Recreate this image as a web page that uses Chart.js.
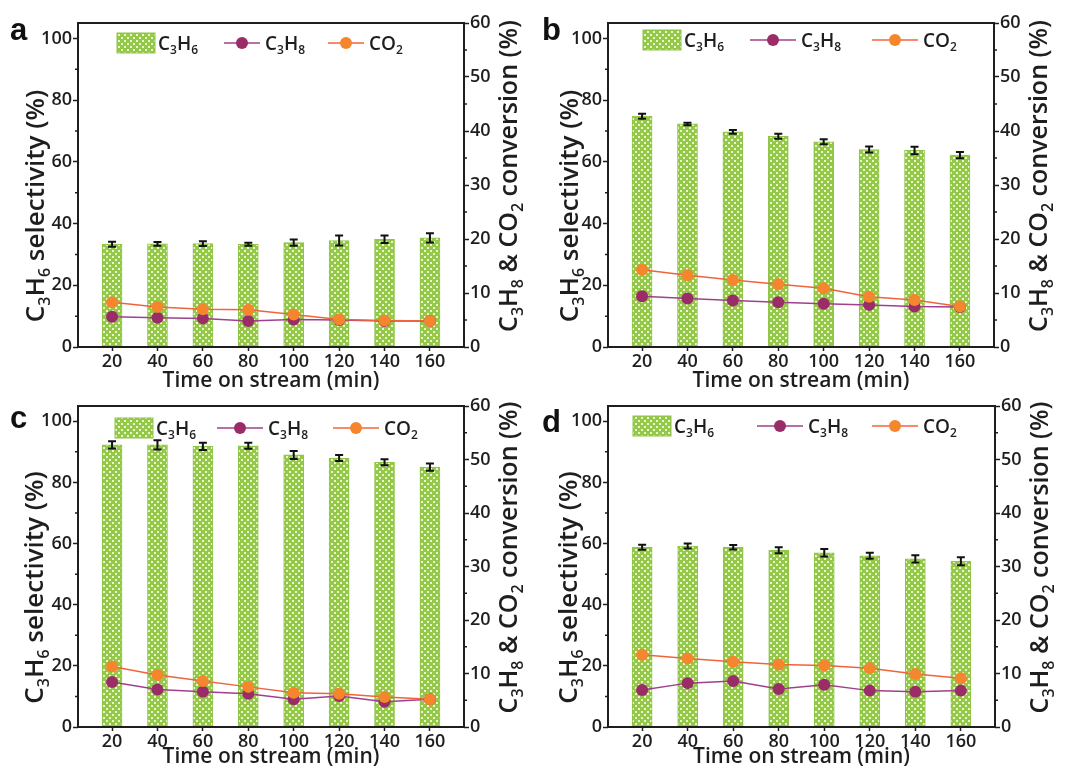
<!DOCTYPE html>
<html>
<head>
<meta charset="utf-8">
<script src="https://cdn.jsdelivr.net/npm/chart.js@4.4.1/dist/chart.umd.min.js"></script>
<style>
  body { margin: 0; background: #fff; width: 1065px; height: 778px; position: relative; overflow: hidden; }
  canvas { position: absolute; }
</style>
</head>
<body>
<canvas id="pa"></canvas>
<canvas id="pb"></canvas>
<canvas id="pc"></canvas>
<canvas id="pd"></canvas>
<script>
// time on stream (min)
const times = [20, 40, 60, 80, 100, 120, 140, 160];
const leftTicks = [0, 20, 40, 60, 80, 100];
const rightTicks = [0, 10, 20, 30, 40, 50, 60];

// panel a
const selA    = [33.3, 33.4, 33.5, 33.3, 33.8, 34.5, 34.9, 35.4];
const selErrA = [0.8, 0.6, 0.8, 0.5, 1.0, 1.6, 1.2, 1.5];
const c3h8A   = [5.6, 5.4, 5.3, 4.8, 5.1, 5.0, 4.8, 4.8];
const co2A    = [8.3, 7.4, 7.0, 6.9, 6.0, 5.1, 4.9, 4.8];
// panel b
const selB    = [74.8, 72.3, 69.7, 68.3, 66.5, 64.0, 63.7, 62.2];
const selErrB = [0.8, 0.4, 0.6, 0.8, 0.8, 1.0, 1.2, 1.0];
const c3h8B   = [9.4, 9.0, 8.6, 8.3, 8.0, 7.8, 7.5, 7.4];
const co2B    = [14.3, 13.3, 12.4, 11.6, 10.9, 9.3, 8.7, 7.5];
// panel c
const selC    = [92.3, 92.3, 91.8, 92.0, 89.0, 88.0, 86.6, 85.0];
const selErrC = [1.2, 1.5, 1.2, 1.0, 1.3, 1.0, 1.0, 1.2];
const c3h8C   = [8.4, 7.0, 6.6, 6.2, 5.2, 5.8, 4.7, 5.2];
const co2C    = [11.3, 9.7, 8.6, 7.5, 6.4, 6.2, 5.6, 5.2];
// panel d
const selD    = [58.8, 59.2, 58.8, 57.8, 57.0, 56.0, 55.0, 54.2];
const selErrD = [0.8, 0.8, 0.7, 1.0, 1.2, 1.0, 1.2, 1.3];
const c3h8D   = [6.9, 8.2, 8.6, 7.1, 7.9, 6.8, 6.6, 6.8];
const co2D    = [13.5, 12.8, 12.2, 11.7, 11.5, 11.0, 9.9, 9.1];

const FONT = '"Open Sans", "DejaVu Sans", sans-serif';
const INK = '#1e1e1e';
const PURPLE_LINE = '#a0408c', PURPLE_PT = '#9a2c68';
const ORANGE_LINE = '#f0643c', ORANGE_PT = '#f5862e';

// green bar fill with pale dots
function dotPattern() {
  const c = document.createElement('canvas');
  c.width = 6; c.height = 6;
  const g = c.getContext('2d');
  g.fillStyle = '#93c848';
  g.fillRect(0, 0, 6, 6);
  g.fillStyle = '#eaf6cc';
  g.fillRect(1, 1, 2, 2);
  g.fillRect(4, 4, 2, 2);
  return g.createPattern(c, 'repeat');
}
const barFill = dotPattern();

// text with subscripts: parts = [[text, isSub], ...]
function rich(ctx, parts, x, y, size, rot, align) {
  ctx.save();
  ctx.translate(x, y);
  ctx.rotate(rot);
  const big = '600 ' + size + 'px ' + FONT;
  const small = '600 ' + Math.round(size * 0.62) + 'px ' + FONT;
  let total = 0;
  parts.forEach(p => { ctx.font = p[1] ? small : big; total += ctx.measureText(p[0]).width; });
  let cx = align === 'center' ? -total / 2 : 0;
  ctx.fillStyle = INK;
  ctx.textBaseline = 'alphabetic';
  ctx.textAlign = 'left';
  parts.forEach(p => {
    ctx.font = p[1] ? small : big;
    ctx.fillText(p[0], cx, p[1] ? size * 0.22 : 0);
    cx += ctx.measureText(p[0]).width;
  });
  ctx.restore();
}

const leftTitle = [['C', 0], ['3', 1], ['H', 0], ['6', 1], [' selectivity (%)', 0]];
const rightTitle = [['C', 0], ['3', 1], ['H', 0], ['8', 1], [' & CO', 0], ['2', 1], [' conversion (%)', 0]];
const xTitle = [['Time on stream (min)', 0]];

function decor(cfg) {
  return {
    id: 'decor',
    afterDatasetsDraw(chart) {
      const ctx = chart.ctx;
      const a = chart.chartArea;
      const y = chart.scales.y, y2 = chart.scales.y2;
      ctx.save();
      // error bars on the selectivity bars
      const meta = chart.getDatasetMeta(2);
      ctx.strokeStyle = '#111';
      ctx.lineWidth = 2;
      meta.data.forEach((bar, i) => {
        const hi = y.getPixelForValue(cfg.sel[i] + cfg.err[i]);
        const lo = y.getPixelForValue(cfg.sel[i] - cfg.err[i]);
        ctx.beginPath();
        ctx.moveTo(bar.x, hi); ctx.lineTo(bar.x, lo);
        ctx.moveTo(bar.x - 4, hi); ctx.lineTo(bar.x + 4, hi);
        ctx.moveTo(bar.x - 4, lo); ctx.lineTo(bar.x + 4, lo);
        ctx.stroke();
      });
      // frame
      ctx.strokeStyle = INK;
      ctx.lineWidth = 2;
      ctx.strokeRect(a.left, a.top, a.right - a.left, a.bottom - a.top);
      // minor ticks
      ctx.lineWidth = 1.5;
      ctx.beginPath();
      for (let v = 10; v < 105; v += 20) {
        const p = y.getPixelForValue(v);
        ctx.moveTo(a.left, p); ctx.lineTo(a.left - 3, p);
      }
      for (let v = 5; v < 60; v += 10) {
        const p = y2.getPixelForValue(v);
        ctx.moveTo(a.right, p); ctx.lineTo(a.right + 3, p);
      }
      ctx.stroke();

      // legend
      const ly = a.top + cfg.leg.y;
      const sx = a.left + cfg.leg.sw;
      ctx.fillStyle = barFill;
      ctx.fillRect(sx, ly - 10, 38, 20);
      ctx.strokeStyle = '#8fc44a';
      ctx.lineWidth = 1;
      ctx.strokeRect(sx, ly - 10, 38, 20);
      rich(ctx, [['C', 0], ['3', 1], ['H', 0], ['6', 1]], sx + 41, ly + 7, 19, 0, 'left');
      const items = [
        [cfg.leg.p, PURPLE_LINE, PURPLE_PT, [['C', 0], ['3', 1], ['H', 0], ['8', 1]]],
        [cfg.leg.o, ORANGE_LINE, ORANGE_PT, [['CO', 0], ['2', 1]]]
      ];
      items.forEach(it => {
        const x0 = a.left + it[0];
        ctx.strokeStyle = it[1];
        ctx.lineWidth = 1.5;
        ctx.beginPath();
        ctx.moveTo(x0, ly); ctx.lineTo(x0 + cfg.leg.len, ly);
        ctx.stroke();
        ctx.fillStyle = it[2];
        ctx.beginPath();
        ctx.arc(x0 + cfg.leg.len / 2, ly, 6, 0, Math.PI * 2);
        ctx.fill();
        rich(ctx, it[3], x0 + cfg.leg.len + 5, ly + 7, 19, 0, 'left');
      });

      // axis titles
      const midY = (a.top + a.bottom) / 2;
      rich(ctx, leftTitle, cfg.ltx + 8, midY + 21, 26, -Math.PI / 2, 'center');
      rich(ctx, rightTitle, a.right + 45 + 8, midY - 9, 25, -Math.PI / 2, 'center');
      rich(ctx, xTitle, (a.left + a.right) / 2, a.bottom + cfg.xty, 21, 0, 'center');

      // panel letter
      ctx.fillStyle = '#111';
      ctx.font = 'bold 31px "Liberation Sans", Arial, sans-serif';
      ctx.textAlign = 'left';
      ctx.textBaseline = 'alphabetic';
      ctx.fillText(cfg.letter, cfg.lx, cfg.ly);
      ctx.restore();
    }
  };
}

function makePanel(id, cfg) {
  const el = document.getElementById(id);
  el.style.left = cfg.x + 'px';
  el.style.top = cfg.y + 'px';
  el.width = cfg.w;
  el.height = cfg.h;
  const tickFont = { family: FONT, size: 18, weight: '600' };
  const pts = arr => times.map((t, i) => ({ x: t, y: arr[i] }));
  new Chart(el, {
    type: 'bar',
    data: {
      datasets: [
        { type: 'line', label: 'CO2', data: pts(cfg.co2), yAxisID: 'y2', order: 1,
          borderColor: ORANGE_LINE, borderWidth: 1.5, tension: 0,
          pointRadius: 6, pointBackgroundColor: ORANGE_PT, pointBorderColor: ORANGE_PT, pointBorderWidth: 0 },
        { type: 'line', label: 'C3H8', data: pts(cfg.c3h8), yAxisID: 'y2', order: 2,
          borderColor: PURPLE_LINE, borderWidth: 1.5, tension: 0,
          pointRadius: 6, pointBackgroundColor: PURPLE_PT, pointBorderColor: PURPLE_PT, pointBorderWidth: 0 },
        { label: 'C3H6', data: pts(cfg.sel), yAxisID: 'y', order: 3,
          backgroundColor: barFill, borderColor: '#8fc44a', borderWidth: 1, barThickness: 20 }
      ]
    },
    options: {
      responsive: false,
      animation: false,
      layout: { padding: { top: cfg.top, left: 0, right: 0, bottom: 0 } },
      plugins: { legend: { display: false }, tooltip: { enabled: false } },
      scales: {
        x: {
          type: 'linear', min: 5, max: 175, offset: false,
          afterBuildTicks: s => { s.ticks = times.map(v => ({ value: v })); },
          afterFit: s => { s.height = cfg.xh; },
          grid: { drawOnChartArea: false, offset: false, tickLength: 4, tickColor: INK, tickWidth: 1.5 },
          border: { display: false },
          ticks: { font: tickFont, color: INK, padding: 0, maxRotation: 0, autoSkip: false, callback: v => String(v) }
        },
        y: {
          position: 'left', min: 0, max: 105,
          afterBuildTicks: s => { s.ticks = leftTicks.map(v => ({ value: v })); },
          afterFit: s => { s.width = cfg.lw; },
          grid: { drawOnChartArea: false, tickLength: 5, tickColor: INK, tickWidth: 1.5 },
          border: { display: false },
          ticks: { font: tickFont, color: INK, padding: 1, callback: v => String(v) }
        },
        y2: {
          position: 'right', min: 0, max: 60,
          afterBuildTicks: s => { s.ticks = rightTicks.map(v => ({ value: v })); },
          afterFit: s => { s.width = cfg.rw; },
          grid: { drawOnChartArea: false, tickLength: 5, tickColor: INK, tickWidth: 1.5 },
          border: { display: false },
          ticks: { font: tickFont, color: INK, padding: 1, callback: v => String(v) }
        }
      }
    },
    plugins: [decor(cfg)]
  });
}

makePanel('pa', { x: 0, y: 0, w: 532, h: 392, top: 23, xh: 45, lw: 78, rw: 68,
  sel: selA, err: selErrA, c3h8: c3h8A, co2: co2A, letter: 'a', lx: 10, ly: 40, ltx: 36, xty: 40,
  leg: { y: 20, sw: 39, p: 146, o: 250, len: 36 } });
makePanel('pb', { x: 532, y: 0, w: 533, h: 392, top: 23, xh: 45, lw: 76, rw: 71,
  sel: selB, err: selErrB, c3h8: c3h8B, co2: co2B, letter: 'b', lx: 10, ly: 40, ltx: 38, xty: 40,
  leg: { y: 17, sw: 35, p: 142, o: 264, len: 46 } });
makePanel('pc', { x: 0, y: 392, w: 532, h: 386, top: 14, xh: 51, lw: 78, rw: 68,
  sel: selC, err: selErrC, c3h8: c3h8C, co2: co2C, letter: 'c', lx: 10, ly: 36, ltx: 35, xty: 36,
  leg: { y: 22, sw: 37, p: 139, o: 255, len: 46 } });
makePanel('pd', { x: 532, y: 392, w: 533, h: 386, top: 14, xh: 51, lw: 76, rw: 70,
  sel: selD, err: selErrD, c3h8: c3h8D, co2: co2D, letter: 'd', lx: 10, ly: 40, ltx: 37, xty: 36,
  leg: { y: 20, sw: 25, p: 149, o: 264, len: 46 } });
</script>
</body>
</html>
